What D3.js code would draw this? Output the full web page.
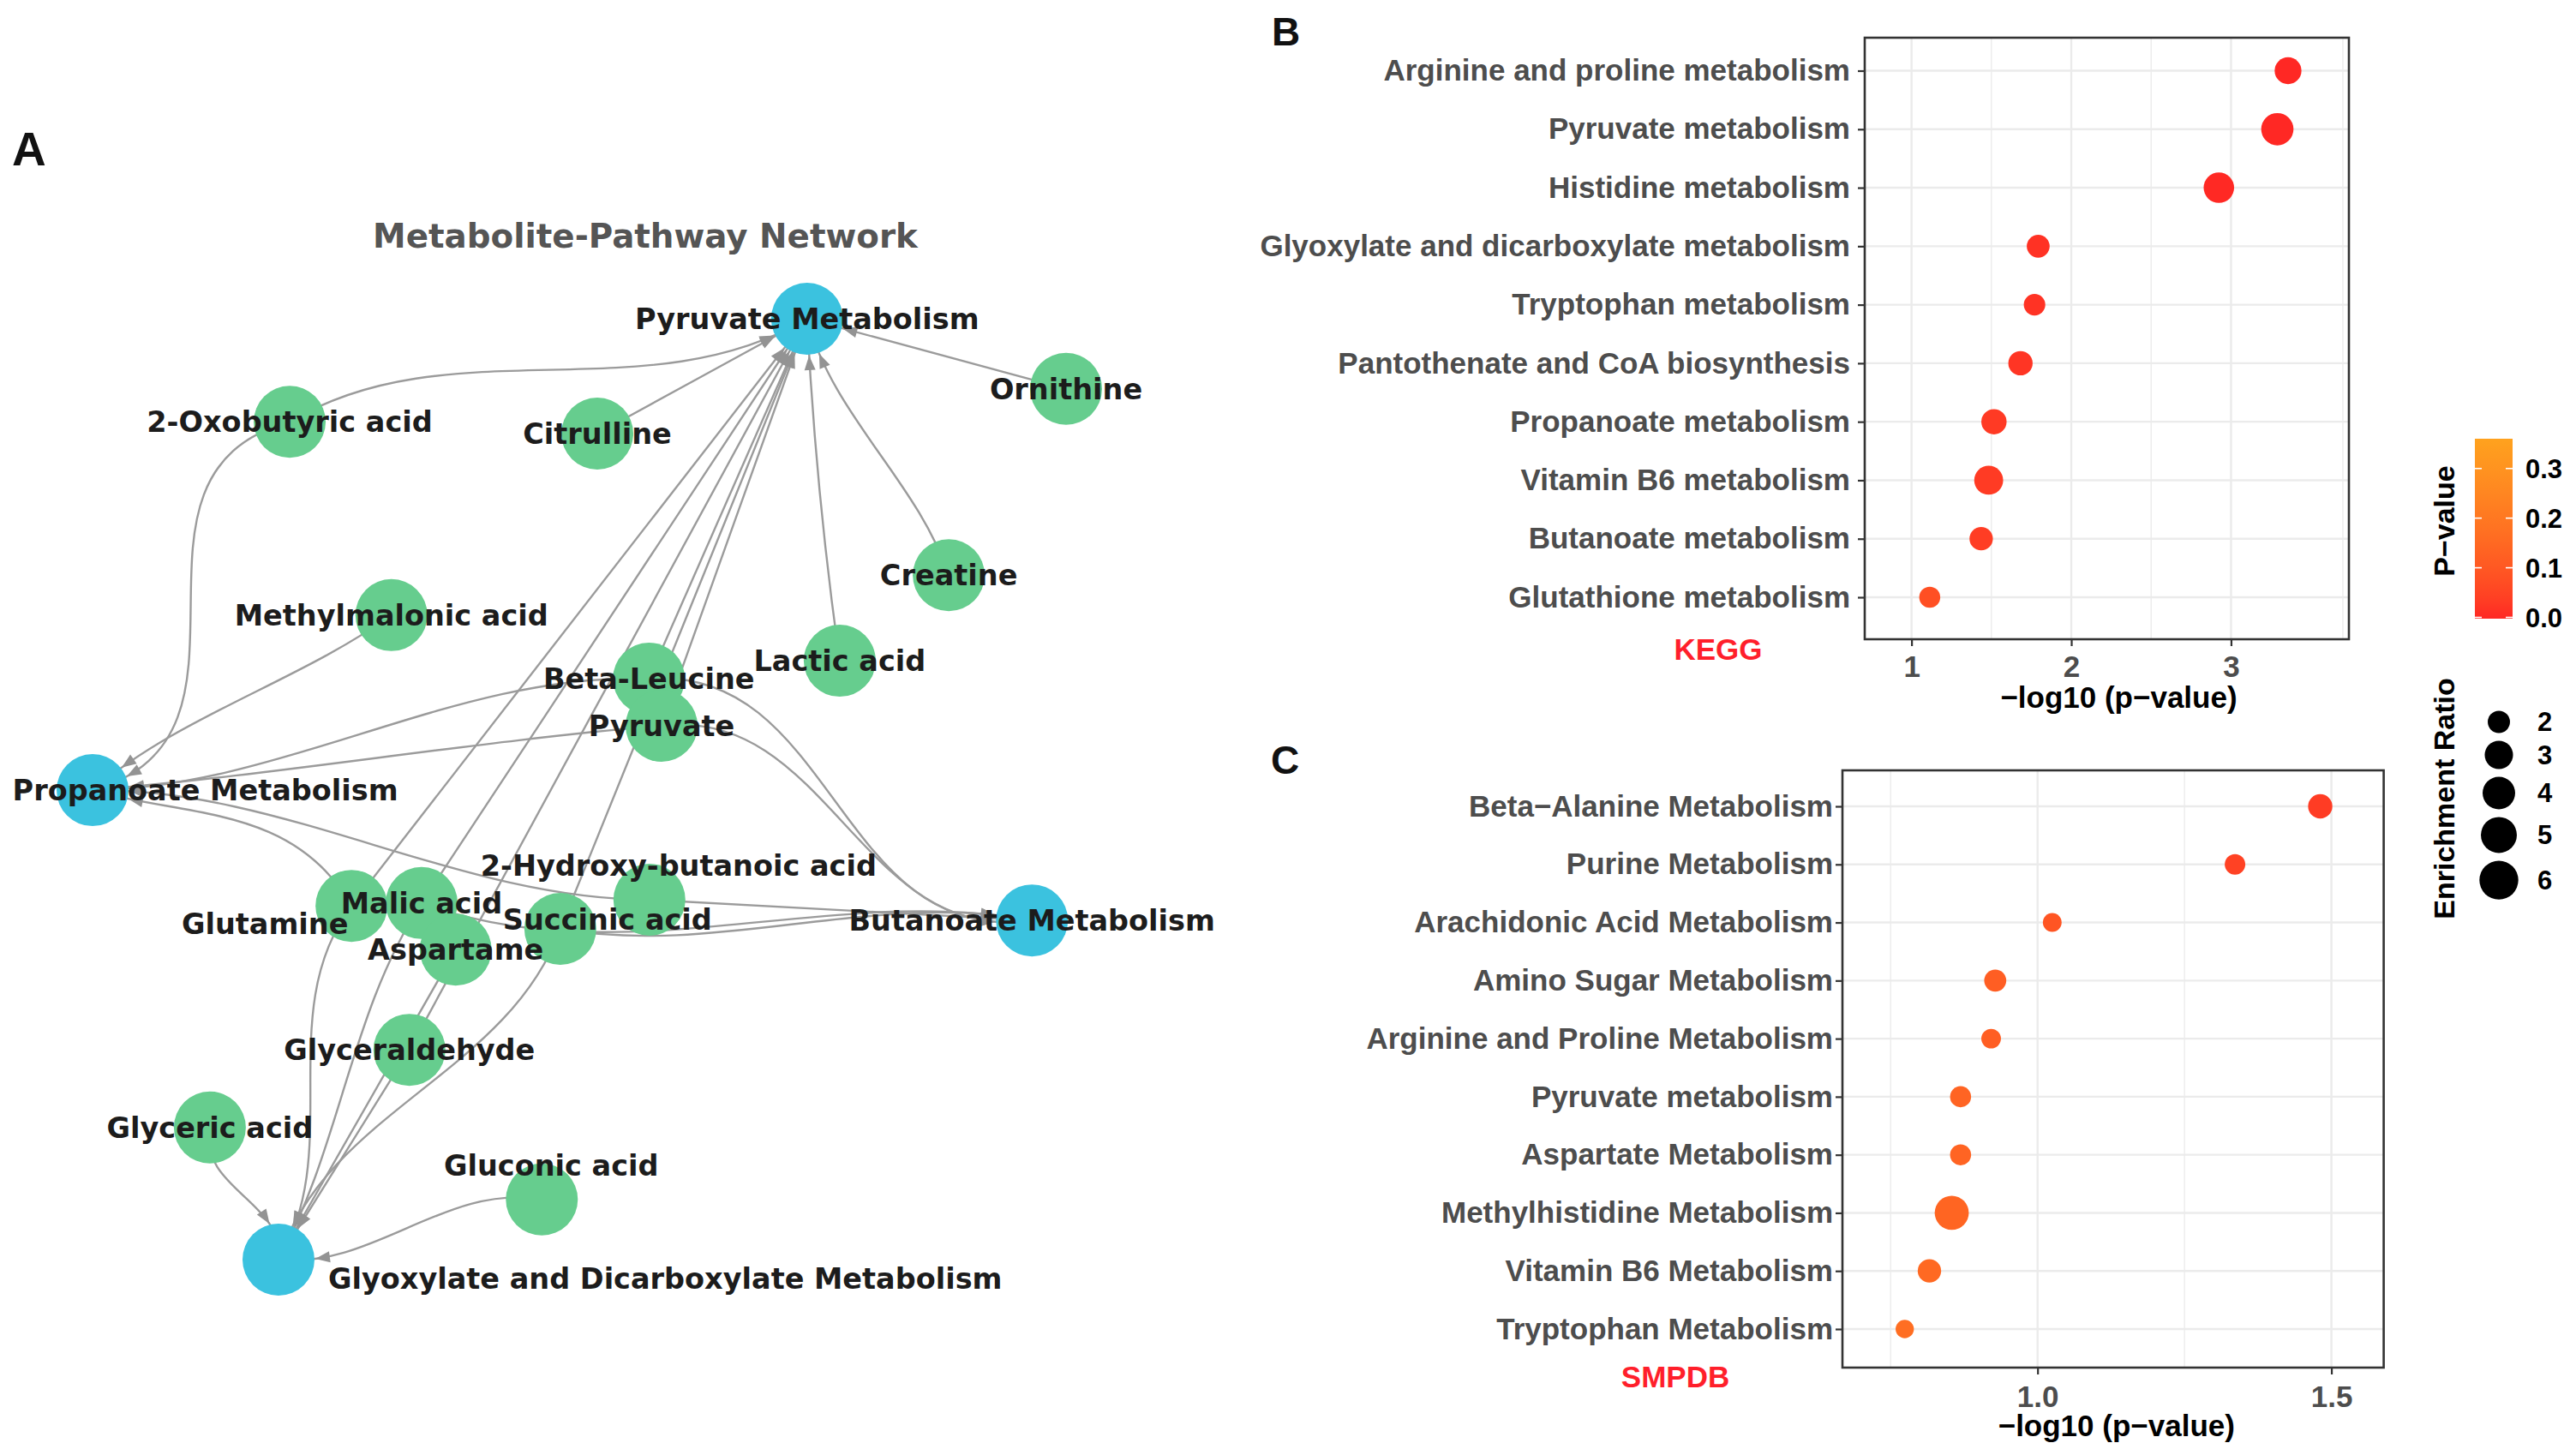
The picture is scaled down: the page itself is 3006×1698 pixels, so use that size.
<!DOCTYPE html>
<html><head><meta charset="utf-8">
<script src="https://cdn.jsdelivr.net/npm/d3@7"></script>
<style>body{margin:0;background:#fff}</style>
</head><body>
<svg id="fig" width="3006" height="1698" xmlns="http://www.w3.org/2000/svg"></svg>
<script>
// ================= DATA =================
// Panel A: network (layout coordinates in [-1,1] layout space)
const nodeNames = ["Pyruvate Metabolism","Propanoate Metabolism","Butanoate Metabolism","Glyoxylate and Dicarboxylate Metabolism",
  "2-Oxobutyric acid","Citrulline","Ornithine","Creatine","Methylmalonic acid","Lactic acid","Beta-Leucine","Pyruvate",
  "2-Hydroxy-butanoic acid","Glutamine","Malic acid","Aspartame","Succinic acid","Glyceraldehyde","Glyceric acid","Gluconic acid"];
const nodeTypes = ["pathway","pathway","pathway","pathway",
  "metabolite","metabolite","metabolite","metabolite","metabolite","metabolite","metabolite","metabolite",
  "metabolite","metabolite","metabolite","metabolite","metabolite","metabolite","metabolite","metabolite"];
const layoutX = [0.468,-1.0,0.930,-0.618,-0.595,0.037,1.0,0.759,-0.386,0.535,0.143,0.169,0.144,-0.468,-0.324,-0.254,-0.039,-0.349,-0.759,-0.077];
const layoutY = [1.0,-0.002,-0.279,-1.0,0.781,0.756,0.851,0.455,0.370,0.273,0.235,0.135,-0.235,-0.248,-0.242,-0.341,-0.297,-0.554,-0.719,-0.872];

const edgeSources = ["2-Oxobutyric acid","Citrulline","Ornithine","Creatine","Lactic acid","Beta-Leucine","Pyruvate","Glutamine","Malic acid","Glyceraldehyde","Succinic acid",
  "2-Oxobutyric acid","Methylmalonic acid","Beta-Leucine","Pyruvate","Glutamine","2-Hydroxy-butanoic acid",
  "Beta-Leucine","Pyruvate","2-Hydroxy-butanoic acid","Succinic acid","Malic acid",
  "Glutamine","Malic acid","Aspartame","Glyceraldehyde","Succinic acid","Glyceric acid","Gluconic acid"];
const edgeTargets = ["Pyruvate Metabolism","Pyruvate Metabolism","Pyruvate Metabolism","Pyruvate Metabolism","Pyruvate Metabolism","Pyruvate Metabolism","Pyruvate Metabolism","Pyruvate Metabolism","Pyruvate Metabolism","Pyruvate Metabolism","Pyruvate Metabolism",
  "Propanoate Metabolism","Propanoate Metabolism","Propanoate Metabolism","Propanoate Metabolism","Propanoate Metabolism","Propanoate Metabolism",
  "Butanoate Metabolism","Butanoate Metabolism","Butanoate Metabolism","Butanoate Metabolism","Butanoate Metabolism",
  "Glyoxylate and Dicarboxylate Metabolism","Glyoxylate and Dicarboxylate Metabolism","Glyoxylate and Dicarboxylate Metabolism","Glyoxylate and Dicarboxylate Metabolism","Glyoxylate and Dicarboxylate Metabolism","Glyoxylate and Dicarboxylate Metabolism","Glyoxylate and Dicarboxylate Metabolism"];

// Panel B: KEGG
const keggPathways = ["Arginine and proline metabolism","Pyruvate metabolism","Histidine metabolism","Glyoxylate and dicarboxylate metabolism",
  "Tryptophan metabolism","Pantothenate and CoA biosynthesis","Propanoate metabolism","Vitamin B6 metabolism","Butanoate metabolism","Glutathione metabolism"];
const keggLogP  = [3.357,3.290,2.924,1.793,1.770,1.682,1.516,1.483,1.436,1.114];
const keggRatio = [2.70,3.94,3.48,2.08,1.92,2.28,2.43,3.13,2.15,1.87];
const keggMajorTicks = [1,2,3];
const keggMinorTicks = [1.5,2.5,3.7];

// Panel C: SMPDB
const smpdbPathways = ["Beta\u2212Alanine Metabolism","Purine Metabolism","Arachidonic Acid Metabolism","Amino Sugar Metabolism",
  "Arginine and Proline Metabolism","Pyruvate metabolism","Aspartate Metabolism","Methylhistidine Metabolism","Vitamin B6 Metabolism","Tryptophan Metabolism"];
const smpdbLogP  = [1.481,1.336,1.025,0.928,0.921,0.869,0.869,0.854,0.816,0.774];
const smpdbRatio = [2.28,1.82,1.67,1.98,1.74,1.87,1.87,4.44,2.15,1.64];
const smpdbMajorTicks = [1.0,1.5];
const smpdbMinorTicks = [0.75,1.25];

// Legends
const pLegendTicks = [0.0,0.1,0.2,0.3];
const sizeLegendValues = [2,3,4,5,6];

// ================= STYLE =================
const GG = "'Liberation Sans', Arial, Helvetica, sans-serif";
const NX = "'DejaVu Sans', sans-serif";
const NODE_R = 42;
const nodeColor = {pathway:"#3bc2df", metabolite:"#66cd8e"};
const EDGE_COL = "#9b9b9b";
// edge bends: perpendicular offsets of the two Bezier control points (fraction of edge length)
const edgeBend = {
  "2-Oxobutyric acid>Pyruvate Metabolism":[-0.119,0.117],
  "Creatine>Pyruvate Metabolism":[0.061,-0.084],
  "Lactic acid>Pyruvate Metabolism":[-0.015,-0.015],
  "2-Oxobutyric acid>Propanoate Metabolism":[0.35,-0.347],
  "Methylmalonic acid>Propanoate Metabolism":[-0.03,0.058],
  "Beta-Leucine>Propanoate Metabolism":[0.078,-0.062],
  "Pyruvate>Propanoate Metabolism":[0.01,-0.01],
  "Glutamine>Propanoate Metabolism":[0.243,0.045],
  "2-Hydroxy-butanoic acid>Propanoate Metabolism":[-0.065,0.069],
  "Beta-Leucine>Butanoate Metabolism":[-0.246,0.279],
  "Pyruvate>Butanoate Metabolism":[-0.228,0.244],
  "Succinic acid>Butanoate Metabolism":[0.065,-0.07],
  "Malic acid>Butanoate Metabolism":[0.111,-0.052],
  "Glutamine>Glyoxylate and Dicarboxylate Metabolism":[0.156,-0.121],
  "Malic acid>Glyoxylate and Dicarboxylate Metabolism":[0.067,-0.041],
  "Succinic acid>Glyoxylate and Dicarboxylate Metabolism":[-0.125,0.137],
  "Glyceric acid>Glyoxylate and Dicarboxylate Metabolism":[0.26,-0.22],
  "Gluconic acid>Glyoxylate and Dicarboxylate Metabolism":[0.139,-0.113]
};
// label placement (pixel offset from node centre, anchor)
const labelPlace = {
  "Propanoate Metabolism":[131.6,0,"middle"],
  "Glyoxylate and Dicarboxylate Metabolism":[58,21.5,"start"],
  "Gluconic acid":[11,-39.5,"middle"],
  "Glutamine":[-101,21,"middle"],
  "Succinic acid":[55,-11,"middle"],
  "2-Hydroxy-butanoic acid":[34,-40,"middle"]
};

const svg = d3.select("#fig");
svg.append("rect").attr("width",3006).attr("height",1698).attr("fill","#fff");

// ================= PANEL A =================
const ax = d3.scaleLinear().domain([-1,1]).range([108,1244]);
const ay = d3.scaleLinear().domain([-1,1]).range([1470,372]);
const nodes = nodeNames.map((name,i)=>({name,type:nodeTypes[i],x:ax(layoutX[i]),y:ay(layoutY[i])}));
const byName = new Map(nodes.map(n=>[n.name,n]));

const gA = svg.append("g");
const edgeG = gA.append("g"), arrowG = gA.append("g"), nodeG = gA.append("g"), labelG = gA.append("g");

function bez(p0,p1,p2,p3,t){const u=1-t;return [u*u*u*p0[0]+3*u*u*t*p1[0]+3*u*t*t*p2[0]+t*t*t*p3[0],u*u*u*p0[1]+3*u*u*t*p1[1]+3*u*t*t*p2[1]+t*t*t*p3[1]];}
function bezD(p0,p1,p2,p3,t){const u=1-t;return [3*u*u*(p1[0]-p0[0])+6*u*t*(p2[0]-p1[0])+3*t*t*(p3[0]-p2[0]),3*u*u*(p1[1]-p0[1])+6*u*t*(p2[1]-p1[1])+3*t*t*(p3[1]-p2[1])];}

edgeSources.forEach((s,i)=>{
  const S=byName.get(s), T=byName.get(edgeTargets[i]);
  const [c1,c2] = edgeBend[s+">"+T.name] || [0,0];
  const p0=[S.x,S.y], p3=[T.x,T.y];
  const dx=p3[0]-p0[0], dy=p3[1]-p0[1], L=Math.hypot(dx,dy);
  const nx=-dy/L, ny=dx/L;
  const p1=[p0[0]+dx/3+nx*c1*L, p0[1]+dy/3+ny*c1*L];
  const p2=[p0[0]+2*dx/3+nx*c2*L, p0[1]+2*dy/3+ny*c2*L];
  const path=d3.path(); path.moveTo(p0[0],p0[1]); path.bezierCurveTo(p1[0],p1[1],p2[0],p2[1],p3[0],p3[1]);
  edgeG.append("path").attr("d",path.toString()).attr("fill","none").attr("stroke",EDGE_COL).attr("stroke-width",2.4);
  let lo=0.2, hi=1;
  for(let k=0;k<50;k++){const m=(lo+hi)/2;const q=bez(p0,p1,p2,p3,m);if(Math.hypot(q[0]-p3[0],q[1]-p3[1])>NODE_R+1)lo=m;else hi=m;}
  const tip=bez(p0,p1,p2,p3,lo); const dv=bezD(p0,p1,p2,p3,lo); const dl=Math.hypot(dv[0],dv[1]);
  const tx=dv[0]/dl, ty=dv[1]/dl, AL=17, AW=6.5;
  const bx=tip[0]-tx*AL, by=tip[1]-ty*AL;
  arrowG.append("path").attr("d",`M${tip[0]},${tip[1]}L${bx-ty*AW},${by+tx*AW}L${bx+ty*AW},${by-tx*AW}Z`).attr("fill","#939393");
});

nodeG.selectAll("circle").data(nodes).join("circle")
  .attr("cx",d=>d.x).attr("cy",d=>d.y).attr("r",NODE_R).attr("fill",d=>nodeColor[d.type]);

labelG.selectAll("text").data(nodes).join("text")
  .attr("x",d=>d.x+(labelPlace[d.name]?labelPlace[d.name][0]:0))
  .attr("y",d=>d.y+(labelPlace[d.name]?labelPlace[d.name][1]:0)+12)
  .attr("text-anchor",d=>labelPlace[d.name]?labelPlace[d.name][2]:"middle")
  .attr("font-family",NX).attr("font-weight","bold").attr("font-size",33.5).attr("fill","#1c1c1c")
  .text(d=>d.name);

gA.append("text").attr("x",753).attr("y",289).attr("text-anchor","middle")
  .attr("font-family",NX).attr("font-weight","bold").attr("font-size",38.8).attr("fill","#555555")
  .text("Metabolite-Pathway Network");

// panel letters
svg.append("text").attr("x",14).attr("y",193).attr("font-family",GG).attr("font-weight","bold").attr("font-size",55).attr("fill","#111").text("A");
svg.append("text").attr("x",1484).attr("y",53).attr("font-family",GG).attr("font-weight","bold").attr("font-size",46).attr("fill","#111").text("B");
svg.append("text").attr("x",1483).attr("y",903).attr("font-family",GG).attr("font-weight","bold").attr("font-size",46).attr("fill","#111").text("C");

// ================= DOT PANELS =================
const colorScale = d3.scaleLinear().domain([0,0.36]).range(["#ff2824","#ffa21e"]).interpolate(d3.interpolateLab);
const sizeScale = d3.scaleSqrt().domain([0,4.5]).range([8.1,22.7]); // radius, applied to (ratio - 1.5)

function dotPanel(o){
  const g=svg.append("g");
  const x=d3.scaleLinear().domain(o.xDomain).range([o.left,o.right]);
  const y=d3.scalePoint().domain(o.cats).range(o.rows);
  const grid=g.append("g");
  o.minors.forEach(v=>grid.append("line").attr("x1",x(v)).attr("x2",x(v)).attr("y1",o.top).attr("y2",o.bottom).attr("stroke","#ececec").attr("stroke-width",1.4));
  o.majors.forEach(v=>grid.append("line").attr("x1",x(v)).attr("x2",x(v)).attr("y1",o.top).attr("y2",o.bottom).attr("stroke","#ebebeb").attr("stroke-width",2.4));
  o.cats.forEach(c=>grid.append("line").attr("x1",o.left).attr("x2",o.right).attr("y1",y(c)).attr("y2",y(c)).attr("stroke","#ebebeb").attr("stroke-width",2.4));
  g.append("g").selectAll("circle").data(o.cats).join("circle")
    .attr("cx",(c,i)=>x(o.vals[i])).attr("cy",c=>y(c))
    .attr("r",(c,i)=>sizeScale(o.ratios[i]-1.5))
    .attr("fill",(c,i)=>colorScale(Math.pow(10,-o.vals[i])));
  g.append("rect").attr("x",o.left).attr("y",o.top).attr("width",o.right-o.left).attr("height",o.bottom-o.top)
    .attr("fill","none").attr("stroke","#333").attr("stroke-width",2.6);
  const ya=g.append("g").attr("transform",`translate(${o.left},0)`).call(d3.axisLeft(y).tickSize(8).tickPadding(o.yPad));
  ya.select(".domain").remove();
  ya.selectAll("line").attr("stroke","#333").attr("stroke-width",2.2);
  ya.selectAll("text").attr("font-family",GG).attr("font-weight","bold").attr("font-size",35).attr("fill","#4d4d4d");
  const xa=g.append("g").attr("transform",`translate(0,${o.bottom})`).call(d3.axisBottom(x).tickValues(o.majors).tickFormat(o.fmt).tickSize(8).tickPadding(o.xPad));
  xa.select(".domain").remove();
  xa.selectAll("line").attr("stroke","#333").attr("stroke-width",2.2);
  xa.selectAll("text").attr("font-family",GG).attr("font-weight","bold").attr("font-size",35).attr("fill","#4d4d4d");
  g.append("text").attr("x",(o.left+o.right)/2+o.titleShift).attr("y",o.titleY).attr("text-anchor","middle")
    .attr("font-family",GG).attr("font-weight","bold").attr("font-size",35).attr("fill","#000")
    .text("\u2212log10 (p\u2212value)");
  g.append("text").attr("x",o.dbX).attr("y",o.dbY).attr("text-anchor","middle")
    .attr("font-family",GG).attr("font-weight","bold").attr("font-size",35).attr("fill","#ff1f2b").text(o.db);
}

dotPanel({cats:keggPathways,vals:keggLogP,ratios:keggRatio,xDomain:[0.707,3.738],left:2176,right:2741,top:44,bottom:746,rows:[82.5,697],
  majors:keggMajorTicks,minors:keggMinorTicks,fmt:d3.format("d"),yPad:9,xPad:11,titleY:826,titleShift:14,db:"KEGG",dbX:2005,dbY:770});
dotPanel({cats:smpdbPathways,vals:smpdbLogP,ratios:smpdbRatio,xDomain:[0.668,1.589],left:2150,right:2781.6,top:899,bottom:1596,rows:[941,1551],
  majors:smpdbMajorTicks,minors:smpdbMinorTicks,fmt:d3.format(".1f"),yPad:3,xPad:13,titleY:1676,titleShift:4,db:"SMPDB",dbX:1955,dbY:1619});

// ================= LEGENDS =================
const lg=svg.append("g");
const cy=d3.scaleLinear().domain([0,0.36]).range([720.5,512]);
const defs=svg.append("defs");
const grad=defs.append("linearGradient").attr("id","pgrad").attr("x1",0).attr("x2",0).attr("y1",1).attr("y2",0);
d3.range(0,1.0001,0.1).forEach(t=>grad.append("stop").attr("offset",t).attr("stop-color",colorScale(t*0.36)));
lg.append("rect").attr("x",2888).attr("y",cy(0.36)).attr("width",44).attr("height",cy(0)-cy(0.36)+1.5).attr("fill","url(#pgrad)");
pLegendTicks.forEach(v=>{
  lg.append("line").attr("x1",2888).attr("x2",2896).attr("y1",cy(v)).attr("y2",cy(v)).attr("stroke","#fff").attr("stroke-width",1.6);
  lg.append("line").attr("x1",2924).attr("x2",2932).attr("y1",cy(v)).attr("y2",cy(v)).attr("stroke","#fff").attr("stroke-width",1.6);
  lg.append("text").attr("x",2947).attr("y",cy(v)+11).attr("font-family",GG).attr("font-weight","bold").attr("font-size",31).attr("fill","#000").text(d3.format(".1f")(v));
});
lg.append("text").attr("transform","translate(2864,608) rotate(-90)").attr("text-anchor","middle")
  .attr("font-family",GG).attr("font-weight","bold").attr("font-size",34).attr("fill","#000").text("P\u2212value");
lg.append("text").attr("transform","translate(2864,932) rotate(-90)").attr("text-anchor","middle")
  .attr("font-family",GG).attr("font-weight","bold").attr("font-size",34).attr("fill","#000").text("Enrichment Ratio");
let yk=825;
sizeLegendValues.forEach(v=>{
  const r=sizeScale(v-1.5); const h=2*r+9; const c=yk+h/2; yk+=h;
  lg.append("circle").attr("cx",2916).attr("cy",c).attr("r",r).attr("fill","#000");
  lg.append("text").attr("x",2961).attr("y",c+11).attr("font-family",GG).attr("font-weight","bold").attr("font-size",31).attr("fill","#000").text(v);
});
</script>
</body></html>
